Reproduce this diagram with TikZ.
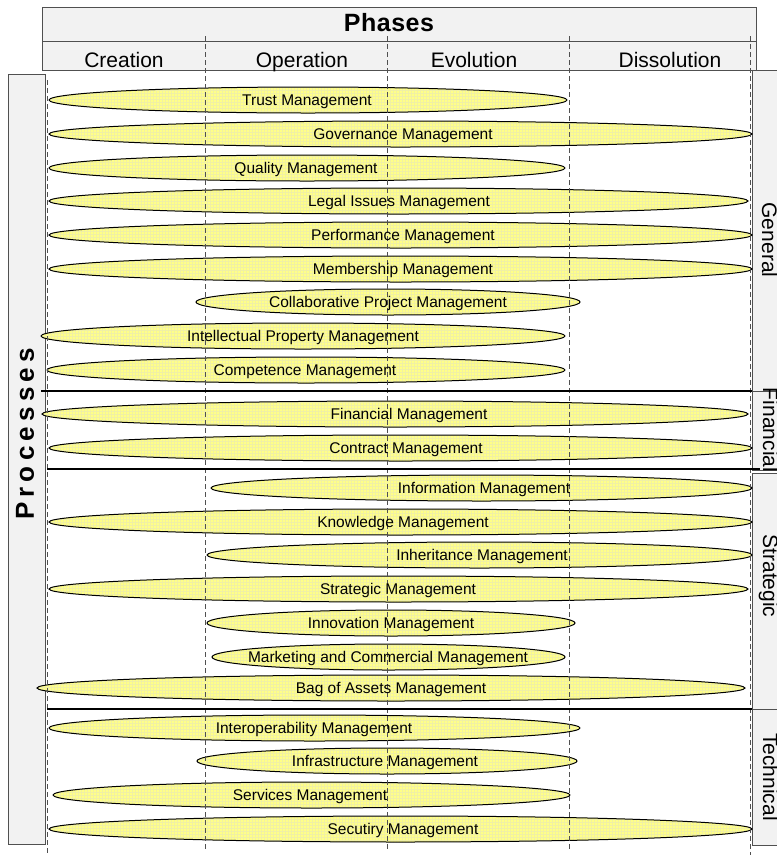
\documentclass[tikz,border=0pt]{standalone}
\usepackage{fontspec}
\setmainfont{Liberation Sans}
\newfontfamily\phasesfont[LetterSpace=2]{Liberation Sans}
\newfontfamily\procfont[LetterSpace=20]{Liberation Sans}
\usetikzlibrary{shapes.geometric,patterns}
\definecolor{ellfill}{RGB}{255,255,135}
\definecolor{gridcol}{RGB}{240,240,165}
\definecolor{boxfill}{RGB}{242,242,242}
\definecolor{boxline}{RGB}{80,80,80}
\definecolor{dashcol}{RGB}{80,80,80}
\tikzset{
  hdrbox/.style={draw=boxline, line width=0.8pt, fill=boxfill},
  procell/.style={ellipse, draw=black, line width=1pt, preaction={fill=ellfill}, pattern=grid, pattern color=gridcol, inner sep=0pt, minimum height=26pt},
  proclbl/.style={font=\fontsize{15.5}{18}\selectfont, inner sep=0pt, anchor=base},
  phaselbl/.style={font=\fontsize{21}{24}\selectfont, anchor=base, inner sep=0pt},
  sidelbl/.style={font=\fontsize{21}{24}\selectfont, anchor=base, inner sep=0pt, rotate=-90},
  dashline/.style={draw=dashcol, line width=0.8pt, dash pattern=on 5pt off 3pt},
  sepline/.style={draw=black, line width=1.5pt}
}
\begin{document}
\begin{tikzpicture}[x=1pt,y=-1pt]
\clip (0,0) rectangle (777,855);
\fill[white] (0,0) rectangle (777,855);
% header
\draw[hdrbox] (42,7) rectangle (756,70);
\draw[boxline, line width=0.8pt] (42,41) -- (756,41);
\node[anchor=base, inner sep=0pt, font=\phasesfont\bfseries\fontsize{25}{28}\selectfont] (phases) at (389,31) {Phases};
\node[phaselbl] (creation) at (124,67) {Creation};
\node[phaselbl] (operation) at (302,67) {Operation};
\node[phaselbl] (evolution) at (474,67) {Evolution};
\node[phaselbl] (dissolution) at (670,67) {Dissolution};
% left box
\draw[hdrbox] (8,74) rectangle (45,844);
\node[anchor=base, inner sep=0pt, rotate=90, font=\procfont\bfseries\fontsize{26}{30}\selectfont] (processes) at (34,434) {Processes};
% right boxes
\draw[hdrbox] (752,70) rectangle (800,391);
\draw[hdrbox] (752,391) rectangle (800,470);
\draw[hdrbox] (752,473) rectangle (800,709);
\draw[hdrbox] (752,709) rectangle (800,845);
\node[sidelbl] (general) at (762,240) {General};
\node[sidelbl] (financial) at (763,430) {Financial};
\node[sidelbl] (strategic) at (763,576) {Strategic};
\node[sidelbl] (technical) at (763,777) {Technical};
% ellipses
\foreach \l/\r/\y/\tx/\txt [count=\i] in {
 49/567/100/307/Trust Management,
 49/752/134/403/Governance Management,
 49/565/168/306/Quality Management,
 49/748/201/399/Legal Issues Management,
 49/752/235/403/Performance Management,
 49/752/269/403/Membership Management,
 196/580/302/388/Collaborative Project Management,
 41/565/336/303/Intellectual Property Management,
 47/565/370/305/Competence Management,
 42/748/414/409/Financial Management,
 49/752/448/406/Contract Management,
 211/752/488/484/Information Management,
 49/752/522/403/Knowledge Management,
 207/752/555/482/Inheritance Management,
 49/748/589/398/Strategic Management,
 207/575/623/391/Innovation Management,
 212/565/657/388/Marketing and Commercial Management,
 37/745/688/391/Bag of Assets Management,
 49/580/728/314/Interoperability Management,
 197/577/761/385/Infrastructure Management,
 53/570/795/310/Services Management,
 49/752/829/403/Secutiry Management}
{
  \node[procell, minimum width={(\r-\l)*1pt}] (e\i) at ({(\l+\r)/2},\y) {};
}
% dashed phase lines
\draw[dashline] (47,80) -- (47,855);
\draw[dashline] (205,36) -- (205,850);
\draw[dashline] (387,36) -- (387,850);
\draw[dashline] (569,36) -- (569,850);
\draw[dashline] (750,36) -- (750,855);
% separators
\draw[sepline] (41,391) -- (752,391);
\draw[sepline] (47,469) -- (760,469);
\draw[sepline] (47,709) -- (752,709);
% labels
\foreach \l/\r/\y/\tx/\txt [count=\i] in {
 49/567/100/307/Trust Management,
 49/752/134/403/Governance Management,
 49/565/168/306/Quality Management,
 49/748/201/399/Legal Issues Management,
 49/752/235/403/Performance Management,
 49/752/269/403/Membership Management,
 196/580/302/388/Collaborative Project Management,
 41/565/336/303/Intellectual Property Management,
 47/565/370/305/Competence Management,
 42/748/414/409/Financial Management,
 49/752/448/406/Contract Management,
 211/752/488/484/Information Management,
 49/752/522/403/Knowledge Management,
 207/752/555/482/Inheritance Management,
 49/748/589/398/Strategic Management,
 207/575/623/391/Innovation Management,
 212/565/657/388/Marketing and Commercial Management,
 37/745/688/391/Bag of Assets Management,
 49/580/728/314/Interoperability Management,
 197/577/761/385/Infrastructure Management,
 53/570/795/310/Services Management,
 49/752/829/403/Secutiry Management}
{
  \node[proclbl] (t\i) at (\tx,{\y+5.5}) {\txt};
}
\end{tikzpicture}
\end{document}
